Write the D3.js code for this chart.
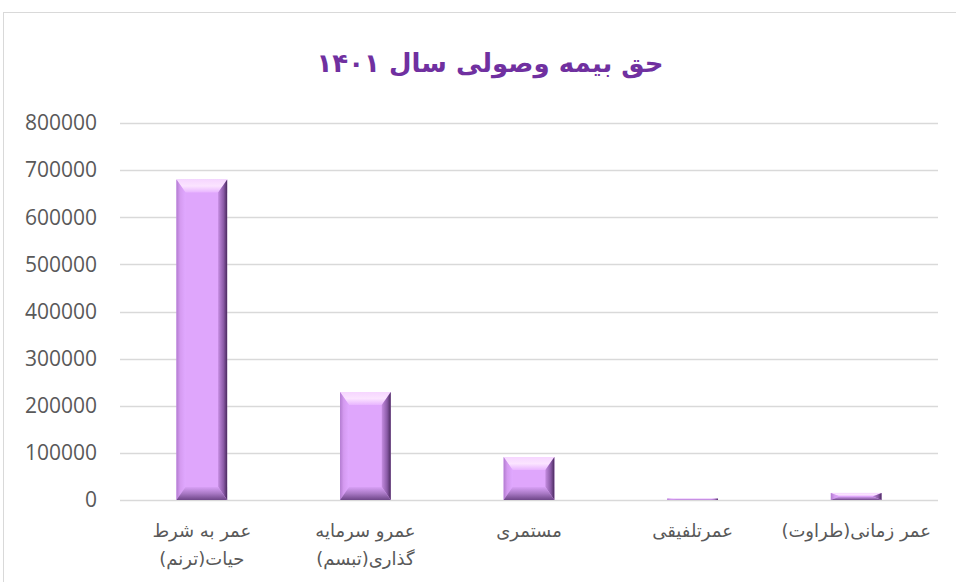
<!DOCTYPE html>
<html><head><meta charset="utf-8">
<script src="https://cdn.jsdelivr.net/npm/d3@7/dist/d3.min.js"></script>
<style>body{margin:0;background:#fff}svg{display:block}</style>
</head><body>
<svg id="c" width="956" height="582"></svg>
<script>
const categories = [
  ["عمر به شرط", "حیات(ترنم)"],
  ["عمرو سرمایه", "گذاری(تبسم)"],
  ["مستمری"],
  ["عمرتلفیقی"],
  ["عمر زمانی(طراوت)"]
];
const values = [680000, 229000, 91000, 3000, 15000];
const yTicks = [0, 100000, 200000, 300000, 400000, 500000, 600000, 700000, 800000];
const title = "حق بیمه وصولی سال ۱۴۰۱";

const svg = d3.select("#c");
const m = {l: 120, r: 938, t: 123, b: 500};

svg.append("rect").attr("x", 3.5).attr("y", 12.5).attr("width", 960).attr("height", 600)
  .attr("fill", "#fff").attr("stroke", "#d9d9d9");

const x = d3.scaleBand().domain(d3.range(categories.length)).range([m.l, m.r]).paddingInner(0).paddingOuter(0);
const y = d3.scaleLinear().domain([0, 800000]).range([m.b, m.t]);

// grid
svg.append("g").selectAll("line").data(yTicks).join("line")
  .attr("x1", m.l).attr("x2", m.r)
  .attr("y1", d => Math.round(y(d)) + 0.5).attr("y2", d => Math.round(y(d)) + 0.5)
  .attr("stroke", "#d9d9d9").attr("stroke-width", 1.3);

// y labels
svg.append("g").selectAll("text").data(yTicks).join("text")
  .attr("x", 97).attr("y", d => y(d)).attr("dy", "0.35em")
  .attr("text-anchor", "end").attr("fill", "#595959")
  .attr("font-family", "'Open Sans', sans-serif").attr("font-size", 21)
  .text(d => d3.format("d")(d));

// gradients
const defs = svg.append("defs");
function grad(id, x1, y1, x2, y2, stops) {
  const g = defs.append("linearGradient").attr("id", id)
    .attr("x1", x1).attr("y1", y1).attr("x2", x2).attr("y2", y2);
  stops.forEach(s => g.append("stop").attr("offset", s[0]).attr("stop-color", s[1]));
}
grad("gTop", 0, 0, 0, 1, [[0, "#f6d6ff"], [0.5, "#fbe4ff"], [1, "#e8b4ff"]]);
grad("gLeft", 0, 0, 1, 0, [[0, "#b27cd0"], [0.4, "#d49af0"], [1, "#e0a8ff"]]);
grad("gRight", 0, 0, 1, 0, [[0, "#c48ce0"], [0.6, "#8a5aa6"], [1, "#4a2a5e"]]);
grad("gBot", 0, 0, 0, 1, [[0, "#d8a0f6"], [0.5, "#a878c4"], [1, "#6e4688"]]);

const bw = x.bandwidth() * 0.31;
const bars = svg.append("g").selectAll("g").data(values).join("g");
bars.each(function(v, i) {
  const g = d3.select(this);
  const x0 = x(i) + (x.bandwidth() - bw) / 2, x1 = x0 + bw;
  const y0 = y(v), y1 = y(0);
  const h = y1 - y0;
  const bt = Math.min(13, h / 2), bs = Math.min(9, bw / 2);
  g.append("rect").attr("x", x0).attr("y", y0).attr("width", bw).attr("height", h).attr("fill", "#dfa6fc");
  g.append("polygon").attr("points", [[x0, y0], [x1, y0], [x1 - bs, y0 + bt], [x0 + bs, y0 + bt]].join(" ")).attr("fill", "url(#gTop)");
  g.append("polygon").attr("points", [[x0, y0], [x0 + bs, y0 + bt], [x0 + bs, y1 - bt], [x0, y1]].join(" ")).attr("fill", "url(#gLeft)");
  g.append("polygon").attr("points", [[x1, y0], [x1, y1], [x1 - bs, y1 - bt], [x1 - bs, y0 + bt]].join(" ")).attr("fill", "url(#gRight)");
  g.append("polygon").attr("points", [[x0, y1], [x0 + bs, y1 - bt], [x1 - bs, y1 - bt], [x1, y1]].join(" ")).attr("fill", "url(#gBot)");
});

// x labels
const xl = svg.append("g").selectAll("text").data(categories).join("text")
  .attr("text-anchor", "middle").attr("fill", "#595959")
  .attr("font-family", "'DejaVu Sans', sans-serif").attr("font-size", 18)
  .attr("direction", "rtl");
xl.each(function(lines, i) {
  const t = d3.select(this);
  lines.forEach((l, j) => t.append("tspan").attr("x", x(i) + x.bandwidth() / 2).attr("y", 537 + j * 28).text(l));
});

// title
svg.append("text").attr("x", 490).attr("y", 72).attr("text-anchor", "middle")
  .attr("fill", "#7030a0").attr("font-weight", "bold")
  .attr("font-family", "'DejaVu Sans', sans-serif").attr("font-size", 26)
  .attr("direction", "rtl").text(title);
</script>
</body></html>
